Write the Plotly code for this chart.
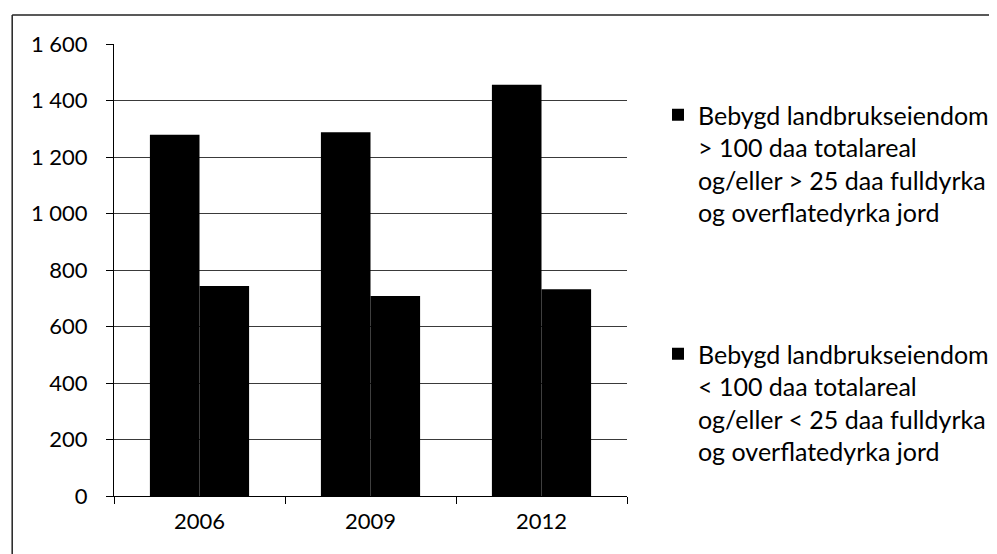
import plotly.graph_objects as go

years = ["2006", "2009", "2012"]
series_names = [
    "Bebygd landbrukseiendom<br>> 100 daa totalareal<br>og/eller > 25 daa fulldyrka<br>og overflatedyrka jord",
    "Bebygd landbrukseiendom<br>< 100 daa totalareal<br>og/eller < 25 daa fulldyrka<br>og overflatedyrka jord",
]
large_values = [1279, 1288, 1456]
small_values = [743, 708, 732]
y_tick_vals = [0, 200, 400, 600, 800, 1000, 1200, 1400, 1600]
y_tick_text = ["0", "200", "400", "600", "800", "1 000", "1 200", "1 400", "1 600"]

W, H = 997, 554
OFF = 8  # page body margin
L, R, T, B = 114 - OFF, 997 - (628 - OFF), 44 - OFF, 554 - (496 - OFF)
FONT = "Lato"

fig = go.Figure()
fig.add_trace(go.Bar(x=years, y=large_values, name=series_names[0], legendgroup="a",
                     marker=dict(color="#000000", line=dict(width=0))))
fig.add_trace(go.Bar(x=years, y=small_values, name=series_names[1], legendgroup="b",
                     marker=dict(color="#000000", line=dict(width=0))))

pw = W - L - R
ph = H - T - B
def px_x(p):
    return (p - OFF - L) / pw
def px_y(p):
    return (H - B - (p - OFF)) / ph

fig.update_layout(
    width=W, height=H,
    margin=dict(l=L, r=R, t=T, b=B, pad=0),
    paper_bgcolor="white", plot_bgcolor="white",
    barmode="group", bargap=0.42, bargroupgap=0,
    font=dict(family=FONT, size=22, color="#000000"),
    showlegend=True,
    legend=dict(x=px_x(658), xanchor="left", y=px_y(92), yanchor="top",
                valign="top", traceorder="grouped", tracegroupgap=106,
                font=dict(size=25, family=FONT),
                bgcolor="rgba(0,0,0,0)"),
    xaxis=dict(type="category", showline=True, linecolor="#000000", linewidth=1,
               ticks="outside", tickson="boundaries", ticklen=7, tickcolor="#000000",
               showgrid=False, ticklabelstandoff=6, fixedrange=True),
    yaxis=dict(range=[0, 1600], tickvals=y_tick_vals, ticktext=y_tick_text,
               showline=True, linecolor="#000000", linewidth=1,
               ticks="outside", ticklen=7, tickcolor="#000000",
               showgrid=True, gridcolor="#3a3a3a", gridwidth=1, zeroline=False,
               ticklabelstandoff=14, fixedrange=True),
    shapes=[
        dict(type="line", xref="paper", yref="paper", x0=px_x(12), x1=px_x(1010),
             y0=px_y(15), y1=px_y(15), line=dict(color="#222222", width=1.5)),
        dict(type="line", xref="paper", yref="paper", x0=px_x(12), x1=px_x(12),
             y0=px_y(15), y1=px_y(570), line=dict(color="#222222", width=1.5)),
    ],
)

fig.write_html("out.html")
